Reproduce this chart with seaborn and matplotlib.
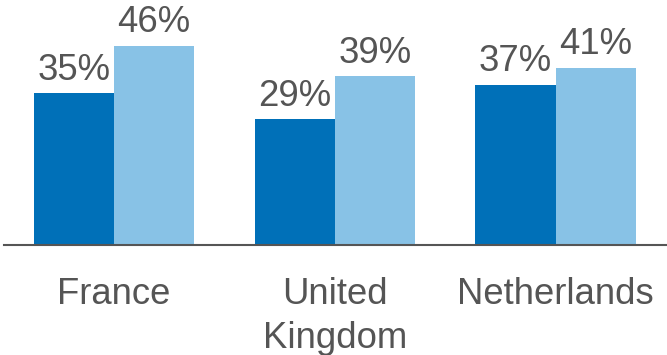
import matplotlib
matplotlib.use("Agg")
import matplotlib.pyplot as plt
import seaborn as sns
import pandas as pd

countries = ["France", "United\nKingdom", "Netherlands"]
series_names = ["A", "B"]
values_a = [35, 29, 37]
values_b = [46, 39, 41]

df = pd.DataFrame({
    "country": countries * 2,
    "series": [series_names[0]] * 3 + [series_names[1]] * 3,
    "value": values_a + values_b,
})

sns.set_style("white")
plt.rcParams["font.family"] = ["Liberation Sans", "DejaVu Sans"]

TEXT = "#555555"
palette = {"A": "#0070B8", "B": "#88C2E6"}

fig = plt.figure(figsize=(6.67, 3.55), dpi=100)
ax = fig.add_axes([4 / 667, 110 / 355, 663 / 667, 245 / 355])

sns.barplot(data=df, x="country", y="value", hue="series", palette=palette,
            width=0.725, gap=0, saturation=1, legend=False, ax=ax,
            linewidth=0, errorbar=None)

ax.set_ylim(0, 56.6)
ax.set_xlim(-0.498, 2.505)

for cont in ax.containers:
    ax.bar_label(cont, fmt="%d%%", padding=4, fontsize=26.3, color=TEXT)

for side in ["top", "left", "right"]:
    ax.spines[side].set_visible(False)
ax.spines["bottom"].set_color(TEXT)
ax.spines["bottom"].set_linewidth(1.5)

ax.set_yticks([])
ax.set_xlabel("")
ax.set_ylabel("")
ax.tick_params(axis="x", length=0, pad=23, labelsize=26.3, labelcolor=TEXT)
for lbl in ax.get_xticklabels():
    lbl.set_linespacing(1.32)

fig.savefig("out.png", dpi=100)
